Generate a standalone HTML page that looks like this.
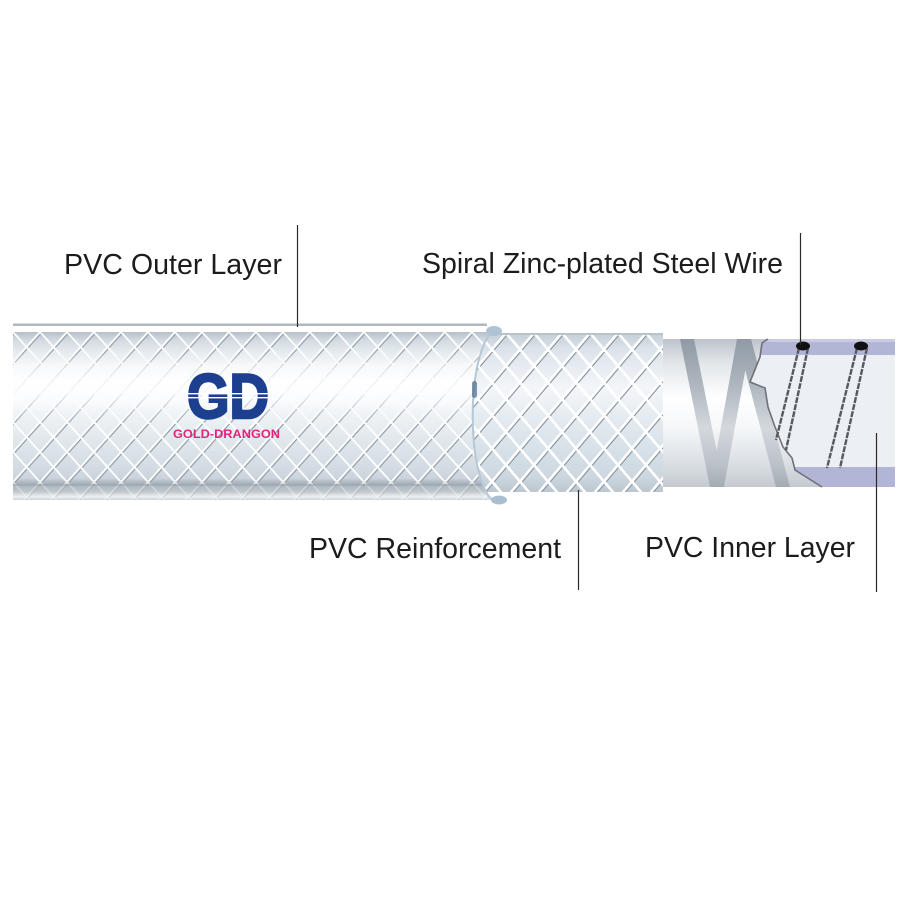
<!DOCTYPE html>
<html><head><meta charset="utf-8"><style>
html,body{margin:0;padding:0;background:#fff;}
svg{display:block;}
.lbl{font-family:"Liberation Sans",Arial,sans-serif;font-size:28.5px;fill:#1c1c1c;}
</style></head><body>
<svg width="900" height="900" viewBox="0 0 900 900" xmlns="http://www.w3.org/2000/svg">
<defs>
  <linearGradient id="outerG" x1="0" y1="0" x2="0" y2="1">
    <stop offset="0" stop-color="#b7c1ca"/>
    <stop offset=".05" stop-color="#d3dae1"/>
    <stop offset=".12" stop-color="#e6ebef"/>
    <stop offset=".2" stop-color="#f6f8fa"/>
    <stop offset=".3" stop-color="#ffffff"/>
    <stop offset=".4" stop-color="#fbfcfd"/>
    <stop offset=".5" stop-color="#eef2f5"/>
    <stop offset=".65" stop-color="#e0e7ec"/>
    <stop offset=".8" stop-color="#d4dce4"/>
    <stop offset=".87" stop-color="#cbd4dc"/>
    <stop offset=".9" stop-color="#a9b2ba"/>
    <stop offset=".95" stop-color="#c0c7cd"/>
    <stop offset=".98" stop-color="#eef0f2"/>
    <stop offset="1" stop-color="#cfd3d6"/>
  </linearGradient>
  <linearGradient id="fadeG" x1="0" y1="332" x2="0" y2="500" gradientUnits="userSpaceOnUse">
    <stop offset="0" stop-color="#fff" stop-opacity=".95"/>
    <stop offset=".12" stop-color="#fff" stop-opacity=".9"/>
    <stop offset=".22" stop-color="#fff" stop-opacity=".25"/>
    <stop offset=".35" stop-color="#fff" stop-opacity=".1"/>
    <stop offset=".45" stop-color="#fff" stop-opacity=".5"/>
    <stop offset=".55" stop-color="#fff" stop-opacity=".95"/>
    <stop offset=".88" stop-color="#fff" stop-opacity=".95"/>
    <stop offset=".92" stop-color="#fff" stop-opacity=".3"/>
    <stop offset="1" stop-color="#fff" stop-opacity=".3"/>
  </linearGradient>
  <mask id="fadeM"><rect x="0" y="300" width="900" height="220" fill="url(#fadeG)"/></mask>
  <pattern id="m1" x="13" y="332" width="27" height="30" patternUnits="userSpaceOnUse">
    <g transform="translate(1.2,1.2)" stroke="#93a0ab" stroke-width="1.3" fill="none">
      <path d="M-27,30 L27,-30 M-13.5,45 L40.5,-15 M0,60 L54,0 M-27,-30 L27,30 M-13.5,-15 L40.5,45 M0,-30 L54,30 M-27,0 L27,60"/>
    </g>
    <g stroke="#ffffff" stroke-width="1.9" fill="none">
      <path d="M-27,30 L27,-30 M-13.5,45 L40.5,-15 M0,60 L54,0 M-27,-30 L27,30 M-13.5,-15 L40.5,45 M0,-30 L54,30 M-27,0 L27,60"/>
    </g>
  </pattern>
  <linearGradient id="reinG" x1="0" y1="0" x2="0" y2="1">
    <stop offset="0" stop-color="#c3ced8"/>
    <stop offset=".1" stop-color="#dbe3ea"/>
    <stop offset=".35" stop-color="#f3f6f9"/>
    <stop offset=".5" stop-color="#e6edf2"/>
    <stop offset=".7" stop-color="#dae3ea"/>
    <stop offset=".9" stop-color="#cdd7df"/>
    <stop offset="1" stop-color="#bcc7d0"/>
  </linearGradient>
  <pattern id="m2" x="478" y="333" width="28" height="33" patternUnits="userSpaceOnUse">
    <g transform="translate(1.3,1.3)" stroke="#8a95a0" stroke-width="1.3" fill="none">
      <path d="M-28,33 L28,-33 M-14,49.5 L42,-16.5 M0,66 L56,0 M-28,-33 L28,33 M-14,-16.5 L42,49.5 M0,-33 L56,33 M-28,0 L28,66"/>
    </g>
    <g stroke="#ffffff" stroke-width="2.6" fill="none">
      <path d="M-28,33 L28,-33 M-14,49.5 L42,-16.5 M0,66 L56,0 M-28,-33 L28,33 M-14,-16.5 L42,49.5 M0,-33 L56,33 M-28,0 L28,66"/>
    </g>
  </pattern>
  <linearGradient id="steelG" x1="0" y1="0" x2="0" y2="1">
    <stop offset="0" stop-color="#bcc3cb"/>
    <stop offset=".15" stop-color="#e0e4e8"/>
    <stop offset=".4" stop-color="#ffffff"/>
    <stop offset=".6" stop-color="#f5f7f9"/>
    <stop offset=".85" stop-color="#d9dee3"/>
    <stop offset="1" stop-color="#c4cad0"/>
  </linearGradient>
  <linearGradient id="bandG" x1="0" y1="339" x2="0" y2="487" gradientUnits="userSpaceOnUse">
    <stop offset="0" stop-color="#909aa4"/>
    <stop offset=".3" stop-color="#adb5bd"/>
    <stop offset=".6" stop-color="#d3d8dd"/>
    <stop offset=".85" stop-color="#bac1c8"/>
    <stop offset="1" stop-color="#a3abb3"/>
  </linearGradient>
  <clipPath id="outerClip"><path d="M13,332 L497,332 A24 84 0 0 0 497,500 L13,500 Z"/></clipPath>
  <clipPath id="cutClip"><path d="M768,339 L762,343 L760,357 L750,382 L765,388 L768,407 L775,427 L783,447 L792,458 L795,470 L822,487 L895,487 L895,339 Z"/></clipPath>
</defs>

<!-- Inner section (steel spiral) -->
<rect x="655" y="339" width="240" height="148" fill="url(#steelG)"/>
<polygon points="680,339 694,339 724,487 710,487" fill="url(#bandG)"/>
<polygon points="737,339 751,339 724,487 710,487" fill="url(#bandG)"/>
<polygon points="737,339 751,339 790,487 776,487" fill="url(#bandG)"/>
<g clip-path="url(#cutClip)">
  <rect x="740" y="339" width="160" height="148" fill="#eceff4"/>
  <rect x="740" y="339" width="160" height="16" fill="#b3b5d7"/>
  <rect x="740" y="467" width="160" height="20" fill="#b3b5d7"/>
  <rect x="740" y="339" width="160" height="3" fill="#c9cbe3"/>
</g>
<path d="M768,339 L762,343 L760,357 L750,382 L765,388 L768,407 L775,427 L783,447 L792,458 L795,470 L822,487" fill="none" stroke="#6d727a" stroke-width="1.6"/>
<!-- wires -->
<g stroke="#565a60" stroke-width="2.4" stroke-dasharray="6 1.2" fill="none">
  <line x1="799" y1="348" x2="776" y2="440"/>
  <line x1="808" y1="348" x2="786" y2="450"/>
  <line x1="857" y1="348" x2="827" y2="468"/>
  <line x1="867" y1="348" x2="840" y2="468"/>
</g>
<ellipse cx="803" cy="346" rx="7" ry="4.5" fill="#111"/>
<ellipse cx="861" cy="346" rx="7" ry="4.5" fill="#111"/>

<!-- Reinforcement -->
<rect x="470" y="333" width="193" height="159" fill="url(#reinG)"/>
<rect x="470" y="333" width="193" height="159" fill="url(#m2)"/>
<rect x="470" y="333" width="193" height="2" fill="#b9c3cc"/>

<!-- Outer layer -->
<path d="M13,332 L497,332 A24 84 0 0 0 497,500 L13,500 Z" fill="url(#outerG)"/>
<g clip-path="url(#outerClip)">
  <rect x="13" y="332" width="490" height="168" fill="url(#m1)" mask="url(#fadeM)"/>
  <rect x="13" y="484" width="490" height="2" fill="#9aa4ad" opacity=".6"/>
</g>
<path d="M497,331 A24 84 0 0 0 497,501" fill="none" stroke="#b6c8d6" stroke-width="2"/>
<ellipse cx="494" cy="331" rx="8" ry="5" fill="#aec3d4"/>
<ellipse cx="499" cy="500" rx="8" ry="4.5" fill="#a8bfd0"/>
<rect x="472" y="381" width="5" height="17" rx="2.5" fill="#4a6a8a" opacity=".7"/>
<rect x="13" y="323.5" width="474" height="2.5" fill="#b3b8bd"/>

<!-- Logo -->
<text x="187" y="418" font-family="Liberation Sans, Arial, sans-serif" font-weight="bold" font-size="63" fill="#1c3f8f" stroke="#1c3f8f" stroke-width="2.5" textLength="82" lengthAdjust="spacingAndGlyphs">GD</text>
<rect x="184" y="393" width="88" height="1.4" fill="#fff"/>
<rect x="184" y="397" width="88" height="1.4" fill="#fff"/>
<text x="173" y="438" font-family="Liberation Sans, Arial, sans-serif" font-weight="bold" font-size="11.5" fill="#e3247e" textLength="107" lengthAdjust="spacingAndGlyphs">GOLD-DRANGON</text>

<!-- Leader lines -->
<g stroke="#2a2a2a" stroke-width="1.2">
  <line x1="297.5" y1="225" x2="297.5" y2="327"/>
  <line x1="800.5" y1="233" x2="800.5" y2="345"/>
  <line x1="578.5" y1="490" x2="578.5" y2="590"/>
  <line x1="876.5" y1="433" x2="876.5" y2="592"/>
</g>

<!-- Labels -->
<text class="lbl" x="64" y="274" textLength="218" lengthAdjust="spacingAndGlyphs">PVC Outer Layer</text>
<text class="lbl" x="422" y="273" textLength="361" lengthAdjust="spacingAndGlyphs">Spiral Zinc-plated Steel Wire</text>
<text class="lbl" x="309" y="558" textLength="252" lengthAdjust="spacingAndGlyphs">PVC Reinforcement</text>
<text class="lbl" x="645" y="557" textLength="210" lengthAdjust="spacingAndGlyphs">PVC Inner Layer</text>
</svg>
</body></html>
